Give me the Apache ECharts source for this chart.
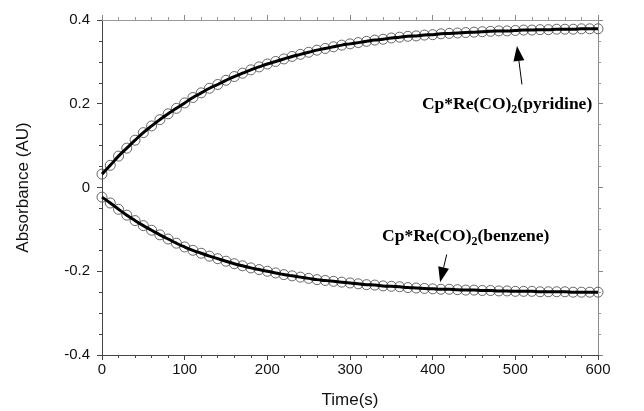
<!DOCTYPE html>
<html>
<head>
<meta charset="utf-8">
<script src="https://cdn.jsdelivr.net/npm/echarts@6/dist/echarts.min.js"></script>
<style>html,body{margin:0;padding:0;background:#fff}#c{width:644px;height:411px}</style>
</head>
<body>
<div id="c"></div>
<script>
var times = [0,10,20,30,40,50,60,70,80,90,100,110,120,130,140,150,160,170,180,190,200,210,220,230,240,250,260,270,280,290,300,310,320,330,340,350,360,370,380,390,400,410,420,430,440,450,460,470,480,490,500,510,520,530,540,550,560,570,580,590,600];
var pyridine = [0.032,0.053,0.075,0.094,0.113,0.131,0.147,0.162,0.176,0.189,0.202,0.215,0.226,0.237,0.246,0.256,0.265,0.273,0.281,0.288,0.295,0.301,0.307,0.313,0.318,0.323,0.328,0.332,0.336,0.340,0.343,0.346,0.349,0.352,0.354,0.357,0.359,0.361,0.362,0.364,0.365,0.367,0.368,0.369,0.370,0.371,0.372,0.373,0.374,0.374,0.375,0.376,0.376,0.377,0.377,0.378,0.378,0.378,0.379,0.379,0.379];
var benzene = [-0.023,-0.037,-0.052,-0.066,-0.079,-0.091,-0.102,-0.113,-0.123,-0.133,-0.142,-0.150,-0.157,-0.164,-0.170,-0.176,-0.182,-0.187,-0.192,-0.196,-0.200,-0.204,-0.208,-0.211,-0.214,-0.217,-0.220,-0.222,-0.224,-0.226,-0.228,-0.230,-0.232,-0.233,-0.235,-0.236,-0.237,-0.239,-0.240,-0.241,-0.242,-0.243,-0.243,-0.244,-0.245,-0.245,-0.246,-0.246,-0.247,-0.247,-0.248,-0.248,-0.248,-0.249,-0.249,-0.249,-0.249,-0.250,-0.250,-0.250,-0.250];
var xTicks = [0,100,200,300,400,500,600];
var yTicks = [-0.4,-0.2,0,0.2,0.4];
var pyrLabel = {text:'pyridine', pos:[490,0.198], tail:[508,0.246], tip:[502,0.338]};
var benLabel = {text:'benzene', pos:[440,-0.118], tail:[417,-0.160], tip:[409,-0.226]};

function pairs(ys){ return times.map(function(t,i){return [t, ys[i]];}); }

var chart = echarts.init(document.getElementById('c'));
var axisCol = '#444';
var opt = {
  animation:false,
  grid:{left:102,right:46,top:20,bottom:56,containLabel:false,outerBoundsMode:'none'},
  xAxis:[{
    type:'value',min:0,max:600,interval:100,
    name:'Time(s)',nameLocation:'middle',nameGap:37,
    nameTextStyle:{fontFamily:'Liberation Sans',fontSize:17,color:'#111'},
    axisLine:{onZero:false,lineStyle:{color:axisCol,width:1}},
    axisTick:{show:true,inside:false,length:5,lineStyle:{color:axisCol}},
    minorTick:{show:true,splitNumber:5,length:3,lineStyle:{color:axisCol}},
    axisLabel:{fontFamily:'Liberation Sans',fontSize:15,color:'#111',margin:7},
    splitLine:{show:false}
  },{
    type:'value',min:0,max:600,interval:100,position:'top',
    axisLine:{show:true,onZero:false,lineStyle:{color:'#999',width:1}},
    axisTick:{show:true,inside:false,length:5,lineStyle:{color:'#888'}},
    minorTick:{show:true,splitNumber:5,length:3,lineStyle:{color:'#999'}},
    axisLabel:{show:false},splitLine:{show:false}
  }],
  yAxis:[{
    type:'value',min:-0.4,max:0.4,interval:0.2,
    name:'Absorbance (AU)',nameLocation:'middle',nameGap:70,nameRotate:90,
    nameTextStyle:{fontFamily:'Liberation Sans',fontSize:17,color:'#111'},
    axisLine:{onZero:false,lineStyle:{color:axisCol,width:1}},
    axisTick:{show:true,inside:false,length:5,lineStyle:{color:axisCol}},
    minorTick:{show:true,splitNumber:4,length:3,lineStyle:{color:axisCol}},
    axisLabel:{fontFamily:'Liberation Sans',fontSize:15,color:'#111',margin:12,
      formatter:function(v){return Math.abs(v)<1e-9?'0':String(Math.round(v*10)/10);}},
    splitLine:{show:false}
  },{
    type:'value',min:-0.4,max:0.4,interval:0.2,position:'right',
    axisLine:{show:true,onZero:false,lineStyle:{color:'#888',width:1}},
    axisTick:{show:true,inside:false,length:5,lineStyle:{color:'#888'}},
    minorTick:{show:true,splitNumber:4,length:3,lineStyle:{color:'#999'}},
    axisLabel:{show:false},splitLine:{show:false}
  }],
  series:[
    {type:'scatter',data:pairs(pyridine),symbol:'circle',symbolSize:10,
      itemStyle:{color:'rgba(255,255,255,0)',borderColor:'#444',borderWidth:1},z:2},
    {type:'scatter',data:pairs(benzene),symbol:'circle',symbolSize:10,
      itemStyle:{color:'rgba(255,255,255,0)',borderColor:'#444',borderWidth:1},z:2},
    {type:'line',data:pairs(pyridine),smooth:true,showSymbol:false,
      lineStyle:{color:'#000',width:3},z:3},
    {type:'line',data:pairs(benzene),smooth:true,showSymbol:false,
      lineStyle:{color:'#000',width:3},z:3}
  ]
};
chart.setOption(opt);

function annot(a){
  var p = chart.convertToPixel({xAxisIndex:0,yAxisIndex:0}, a.pos);
  var t0 = chart.convertToPixel({xAxisIndex:0,yAxisIndex:0}, a.tail);
  var t1 = chart.convertToPixel({xAxisIndex:0,yAxisIndex:0}, a.tip);
  var dx = t1[0]-t0[0], dy = t1[1]-t0[1], L = Math.sqrt(dx*dx+dy*dy);
  var ux = dx/L, uy = dy/L, hl = 15, hw = 5.5;
  var bx = t1[0]-ux*hl, by = t1[1]-uy*hl;
  return [
    {type:'text',x:p[0],y:p[1],style:{
      text:'{a|Cp*Re(CO)}{s|2}{a|('+a.text+')}',
      align:'center',verticalAlign:'middle',
      rich:{
        a:{fontFamily:'Liberation Serif',fontWeight:'bold',fontSize:17.5,fill:'#000',lineHeight:22,verticalAlign:'middle'},
        s:{fontFamily:'Liberation Serif',fontWeight:'bold',fontSize:12,fill:'#000',lineHeight:4,verticalAlign:'bottom'}
      }}},
    {type:'line',shape:{x1:t0[0],y1:t0[1],x2:bx,y2:by},style:{stroke:'#000',lineWidth:1}},
    {type:'polygon',shape:{points:[[t1[0],t1[1]],[bx-uy*hw,by+ux*hw],[bx+uy*hw,by-ux*hw]]},style:{fill:'#000'}}
  ];
}
chart.setOption({graphic:annot(pyrLabel).concat(annot(benLabel))});
</script>
</body>
</html>
